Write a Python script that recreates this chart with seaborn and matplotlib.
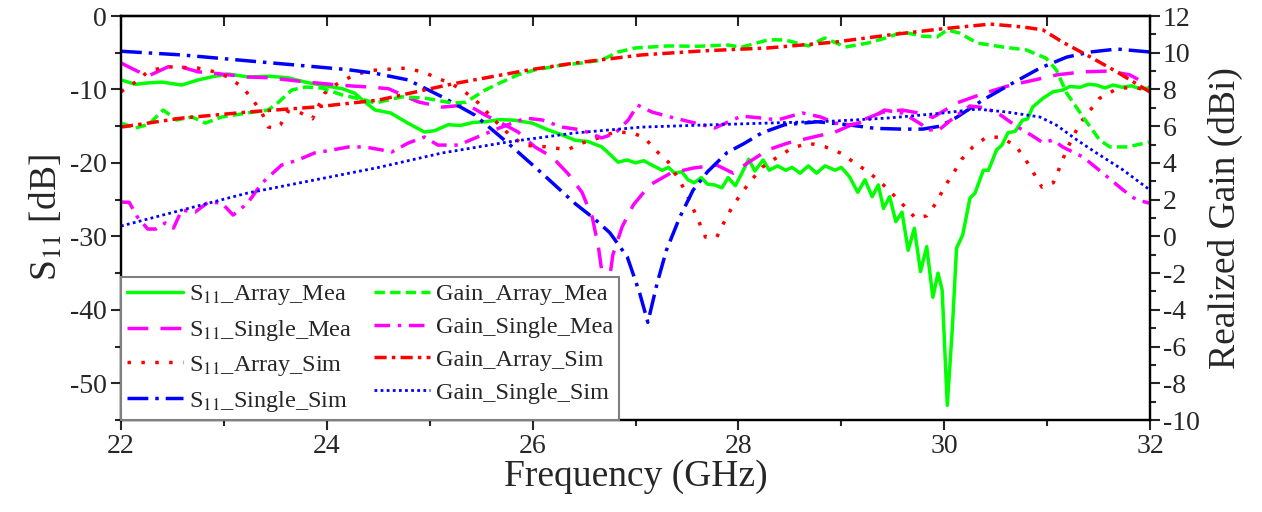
import numpy as np
import pandas as pd
import matplotlib
matplotlib.use("Agg")
import matplotlib.pyplot as plt
import seaborn as sns
from matplotlib.ticker import MultipleLocator

# ---------------- data ----------------
s11_array_mea_f = [22.0, 22.14, 22.27, 22.4, 22.59, 22.75, 22.91, 23.04, 23.24, 23.43, 23.62, 23.79, 23.95,
                   24.15, 24.27, 24.37, 24.47, 24.62, 24.79, 24.95, 25.05, 25.18, 25.3, 25.42, 25.54, 25.68,
                   25.83, 26.0, 26.15, 26.29, 26.41, 26.54, 26.67, 26.75, 26.83, 26.92, 27.0, 27.08, 27.16,
                   27.26, 27.32, 27.38, 27.45, 27.51, 27.57, 27.64, 27.70, 27.77, 27.84, 27.90, 27.97, 28.03,
                   28.10, 28.16, 28.24, 28.30, 28.38, 28.46, 28.52, 28.60, 28.68, 28.76, 28.84, 28.94, 29.00,
                   29.08, 29.16, 29.23, 29.30, 29.36, 29.41, 29.47, 29.53, 29.59, 29.65, 29.71, 29.77, 29.83,
                   29.89, 29.94, 29.98, 30.03, 30.08, 30.12, 30.18, 30.25, 30.30, 30.38, 30.43, 30.51, 30.56,
                   30.62, 30.69, 30.76, 30.81, 30.86, 30.96, 31.06, 31.15, 31.22, 31.32, 31.40, 31.48, 31.56,
                   31.64, 31.73, 31.82, 31.90, 32.0]
s11_array_mea = [-8.7, -9.3, -9.1, -9.0, -9.4, -8.7, -8.2, -7.9, -8.3, -8.2, -8.4, -9.0, -9.4,
                 -9.9, -10.5, -11.7, -12.8, -13.2, -14.6, -15.8, -15.6, -14.8, -14.9, -14.5, -14.4, -14.1,
                 -14.2, -14.6, -15.5, -16.2, -16.9, -17.1, -17.8, -18.8, -19.9, -19.6, -20.0, -19.7, -20.3,
                 -21.0, -20.6, -21.4, -21.2, -22.3, -22.7, -22.0, -22.9, -23.0, -23.4, -22.0, -23.1, -21.5,
                 -19.5, -21.1, -19.6, -21.0, -20.4, -21.0, -20.6, -21.4, -20.4, -21.4, -20.4, -21.0, -20.6,
                 -21.9, -24.0, -22.3, -24.6, -23.0, -26.2, -24.6, -28.0, -26.7, -31.9, -28.9, -34.8, -31.4,
                 -38.3, -35.0, -37.3, -53.0, -42.3, -31.6, -29.8, -24.8, -24.1, -21.0, -21.0, -18.2, -17.6,
                 -15.9, -15.7, -14.2, -14.0, -12.4, -11.2, -10.3, -10.1, -9.6, -9.7, -9.3, -9.4, -9.8,
                 -9.4, -9.7, -9.5, -9.9, -9.8]

s11_single_mea_f = [22.0, 22.1, 22.26, 22.46, 22.6, 22.75, 22.91, 23.23, 23.43, 23.62, 23.88, 24.21, 24.44,
                    24.6, 24.89, 25.12, 25.37, 25.54, 25.7, 25.86, 26.02, 26.19, 26.34, 26.48, 26.58, 26.64,
                    26.69, 26.73, 26.78, 26.87, 26.98, 27.14, 27.34, 27.56, 27.79, 27.95, 28.09, 28.29, 28.48,
                    28.72, 28.94, 29.2, 29.4, 29.59, 29.75, 29.89, 30.13, 30.39, 30.65, 30.88, 31.1, 31.35,
                    31.6, 31.8, 32.0]
s11_single_mea = [-6.4, -7.1, -8.2, -6.9, -7.0, -7.6, -7.8, -8.3, -8.4, -8.7, -9.1, -9.5, -9.7,
                  -9.9, -11.7, -12.4, -12.1, -13.5, -14.6, -15.8, -17.8, -19.2, -21.4, -24.0, -27.4, -31.5,
                  -36.5, -37.5, -32.5, -28.7, -25.7, -23.0, -21.4, -20.7, -20.3, -21.4, -20.0, -18.2, -17.3,
                  -16.5, -15.8, -14.2, -13.1, -12.8, -13.2, -13.8, -11.8, -10.5, -9.4, -8.7, -8.0, -7.6,
                  -7.5, -8.0, -9.5]

s11_array_sim_f = [22.0, 22.14, 22.26, 22.43, 22.6, 22.75, 22.91, 23.04, 23.18, 23.27, 23.37, 23.43, 23.5,
                   23.55, 23.62, 23.72, 23.86, 23.98, 24.08, 24.27, 24.44, 24.76, 24.93, 25.05, 25.22, 25.34,
                   25.47, 25.63, 25.8, 25.93, 26.12, 26.34, 26.48, 26.64, 26.8, 26.97, 27.09, 27.19, 27.32,
                   27.48, 27.61, 27.68, 27.79, 27.87, 27.94, 28.03, 28.13, 28.23, 28.38, 28.52, 28.68, 28.84,
                   29.0, 29.13, 29.26, 29.38, 29.49, 29.6, 29.72, 29.83, 29.93, 30.0, 30.09, 30.17, 30.28,
                   30.41, 30.54, 30.69, 30.78, 30.87, 30.95, 31.06, 31.12, 31.19, 31.25, 31.32, 31.42, 31.51,
                   31.68, 31.83, 32.0]
s11_array_sim = [-10.3, -9.0, -7.6, -6.9, -7.0, -7.1, -7.6, -8.3, -9.7, -11.2, -13.2, -15.1, -15.3,
                 -14.8, -13.0, -13.0, -14.0, -10.5, -9.4, -8.0, -7.4, -7.1, -7.6, -8.3, -9.3, -10.3,
                 -11.8, -14.2, -16.5, -17.6, -17.8, -18.2, -17.3, -16.6, -15.8, -15.9, -16.6, -18.2, -19.9,
                 -23.7, -27.8, -30.1, -30.1, -27.8, -26.0, -24.1, -22.3, -20.6, -19.2, -18.0, -17.3, -17.8,
                 -18.7, -20.0, -21.2, -22.6, -24.1, -25.7, -27.5, -27.2, -25.3, -23.3, -21.4, -19.5, -17.8,
                 -16.5, -16.5, -17.6, -19.3, -21.4, -23.3, -22.7, -20.7, -18.2, -16.5, -14.6, -12.8, -11.2,
                 -9.9, -9.7, -10.1]

s11_single_sim_f = [22.0, 22.59, 23.23, 23.88, 24.2, 24.47, 24.79, 25.12, 25.44, 25.76, 26.09, 26.41, 26.6,
                    26.75, 26.92, 27.04, 27.12, 27.21, 27.3, 27.43, 27.56, 27.7, 27.89, 28.05, 28.23, 28.45,
                    28.77, 29.06, 29.33, 29.59, 29.79, 29.96, 30.12, 30.38, 30.67, 30.93, 31.19, 31.42, 31.68,
                    32.0]
s11_single_sim = [-4.8, -5.3, -6.1, -6.9, -7.3, -7.8, -8.7, -11.0, -13.5, -17.3, -21.4, -25.5, -27.6,
                  -29.5, -32.8, -37.7, -41.7, -36.4, -31.9, -27.4, -23.7, -21.2, -18.6, -17.4, -15.9, -14.8,
                  -14.4, -14.8, -15.3, -15.4, -15.4, -15.0, -13.8, -11.4, -9.1, -7.1, -5.6, -4.9, -4.5,
                  -4.9]

gain_array_mea_f = [22.0, 22.14, 22.27, 22.41, 22.54, 22.69, 22.82, 22.98, 23.23, 23.43, 23.53, 23.66, 23.79,
                    23.95, 24.15, 24.37, 24.47, 24.73, 24.95, 25.22, 25.35, 25.54, 25.7, 25.86, 26.02, 26.29,
                    26.48, 26.67, 26.83, 27.0, 27.32, 27.6, 27.9, 28.03, 28.29, 28.45, 28.68, 28.84, 29.04,
                    29.26, 29.4, 29.6, 29.79, 29.93, 30.03, 30.15, 30.32, 30.57, 30.8, 30.99, 31.09, 31.19,
                    31.35, 31.51, 31.61, 31.78, 32.0]
gain_array_mea = [6.17, 5.9, 6.1, 6.88, 6.34, 6.5, 6.17, 6.5, 6.72, 6.88, 7.3, 7.97, 8.13,
                  8.08, 7.7, 7.42, 7.26, 7.6, 7.53, 7.26, 7.3, 7.97, 8.4, 8.8, 9.06, 9.33,
                  9.44, 9.6, 10.04, 10.26, 10.37, 10.35, 10.42, 10.3, 10.7, 10.7, 10.37, 10.8, 10.31,
                  10.53, 10.75, 11.13, 10.9, 10.86, 11.24, 11.07, 10.53, 10.31, 10.15, 9.7, 9.06, 7.8,
                  6.5, 5.25, 4.87, 4.87, 5.14]

gain_single_mea_f = [22.0, 22.08, 22.16, 22.26, 22.34, 22.43, 22.51, 22.59, 22.72, 22.85, 22.98, 23.09, 23.23,
                     23.37, 23.56, 23.72, 23.88, 24.05, 24.21, 24.37, 24.54, 24.63, 24.79, 24.95, 25.08, 25.28,
                     25.51, 25.7, 25.93, 26.09, 26.29, 26.48, 26.67, 26.8, 26.93, 27.02, 27.16, 27.38, 27.58,
                     27.77, 28.03, 28.23, 28.38, 28.62, 28.8, 28.94, 29.1, 29.26, 29.42, 29.6, 29.75, 29.86,
                     29.95, 30.1, 30.25, 30.4, 30.55, 30.7, 30.85, 30.96, 31.06, 31.15, 31.35, 31.54, 31.74,
                     31.87, 32.0]
gain_single_mea = [1.87, 1.85, 1.05, 0.4, 0.4, 0.73, 0.45, 1.43, 1.32, 1.87, 1.81, 1.16, 1.81,
                   2.9, 3.88, 4.16, 4.54, 4.7, 4.87, 4.87, 4.7, 4.59, 5.08, 5.41, 4.97, 4.97,
                   5.52, 5.95, 6.44, 6.34, 5.95, 5.79, 5.36, 5.6, 6.34, 7.15, 6.77, 6.44, 6.17,
                   5.9, 6.55, 6.44, 6.34, 6.72, 6.5, 6.17, 6.06, 6.34, 6.88, 6.7, 6.2, 5.8,
                   5.8, 6.5, 7.1, 7.0, 6.6, 6.0, 5.5, 5.1, 5.25, 4.87, 4.32, 3.45, 2.52,
                   1.98, 1.81]

gain_array_sim_f = [22.0, 22.59, 23.23, 23.88, 24.5, 25.22, 25.96, 26.41, 27.06, 27.65, 28.29, 28.94, 29.47,
                    29.96, 30.45, 30.77, 30.96, 31.15, 31.42, 31.68, 32.0]
gain_array_sim = [5.95, 6.44, 6.77, 7.04, 7.42, 8.3, 9.06, 9.44, 9.88, 10.1, 10.26, 10.58, 10.97,
                  11.29, 11.56, 11.4, 11.24, 10.58, 9.77, 8.95, 7.86]

gain_single_sim_f = [22.0, 22.59, 23.23, 23.88, 24.5, 25.12, 25.76, 26.41, 27.06, 27.65, 28.29, 28.94, 29.47,
                     29.96, 30.32, 30.61, 30.93, 31.09, 31.29, 31.48, 31.74, 32.0]
gain_single_sim = [0.56, 1.43, 2.36, 3.07, 3.75, 4.54, 5.14, 5.63, 5.95, 6.06, 6.17, 6.28, 6.45,
                   6.7, 6.93, 6.77, 6.5, 6.06, 5.25, 4.54, 3.61, 2.52]

x_ticks = [22, 24, 26, 28, 30, 32]
s11_ticks = [0, -10, -20, -30, -40, -50]
gain_ticks = [12, 10, 8, 6, 4, 2, 0, -2, -4, -6, -8, -10]

# ---------------- style ----------------
sns.set_style("ticks")
plt.rcParams["font.family"] = ["Liberation Serif", "DejaVu Serif"]
plt.rcParams["mathtext.fontset"] = "stix"
plt.rcParams["axes.unicode_minus"] = False

fig = plt.figure(figsize=(12.62, 5.12), dpi=100)
ax = fig.add_axes([121 / 1262, 1 - 420 / 512, (1150 - 121) / 1262, (420 - 16) / 512])
ax2 = ax.twinx()

GREEN = "#00ff00"
MAG = "#ff00ff"
RED = "#ff0000"
BLUE = "#0000ff"

lw = 2.5
specs_left = [
    (s11_array_mea_f, s11_array_mea, "S$_{11}$_Array_Mea", GREEN, "-"),
    (s11_single_mea_f, s11_single_mea, "S$_{11}$_Single_Mea", MAG, (0, (6, 3.5))),
    (s11_array_sim_f, s11_array_sim, "S$_{11}$_Array_Sim", RED, (0, (1, 3))),
    (s11_single_sim_f, s11_single_sim, "S$_{11}$_Single_Sim", BLUE, (0, (6, 2, 1, 2))),
]
specs_right = [
    (gain_array_mea_f, gain_array_mea, "Gain_Array_Mea", GREEN, (0, (3, 1.5)), lw),
    (gain_single_mea_f, gain_single_mea, "Gain_Single_Mea", MAG, (0, (4.5, 2.2, 1, 2.2)), lw),
    (gain_array_sim_f, gain_array_sim, "Gain_Array_Sim", RED, (0, (3.5, 1.5, 1, 1.5)), lw),
    (gain_single_sim_f, gain_single_sim, "Gain_Single_Sim", BLUE, (0, (1, 1.2)), 2.0),
]

handles = []
for f, v, lab, col, ls in specs_left:
    df = pd.DataFrame({"f": f, "v": v})
    sns.lineplot(data=df, x="f", y="v", ax=ax, color=col, linestyle=ls, linewidth=lw,
                 label=lab, legend=False, estimator=None, sort=False)
    handles.append(ax.lines[-1])
for f, v, lab, col, ls, w in specs_right:
    df = pd.DataFrame({"f": f, "v": v})
    sns.lineplot(data=df, x="f", y="v", ax=ax2, color=col, linestyle=ls, linewidth=w,
                 label=lab, legend=False, estimator=None, sort=False)
    handles.append(ax2.lines[-1])

ax.set_xlim(22, 32)
ax.set_ylim(-55, 0)
ax2.set_ylim(-10, 12)

ax.set_xticks(x_ticks)
ax.xaxis.set_minor_locator(MultipleLocator(1))
ax.set_yticks(s11_ticks)
ax.yaxis.set_minor_locator(MultipleLocator(5))
ax2.set_yticks(gain_ticks)
ax2.yaxis.set_minor_locator(MultipleLocator(1))

tick_fs = 20
ax.tick_params(axis="both", which="major", direction="out", length=7, width=1.5, labelsize=tick_fs, pad=3)
ax.tick_params(axis="both", which="minor", direction="out", length=4, width=1.5)
ax2.tick_params(axis="y", which="major", direction="out", length=7, width=1.5, labelsize=tick_fs, pad=2)
ax2.tick_params(axis="y", which="minor", direction="out", length=4, width=1.5)

top = ax.secondary_xaxis("top")
top.set_xticks(np.arange(22, 33, 1))
top.tick_params(direction="in", length=7, width=1.5, labeltop=False)
top.set_xticklabels([])

for a in (ax, ax2):
    for sp in a.spines.values():
        sp.set_linewidth(1.6)
        sp.set_color("black")
top.spines["top"].set_linewidth(1.6)

ax.set_xlabel("Frequency (GHz)", fontsize=27, labelpad=0)
ax.set_ylabel("S$_{11}$ [dB]", fontsize=27, labelpad=4)
ax2.set_ylabel("Realized Gain (dBi)", fontsize=27, labelpad=6)

leg = ax2.legend(handles=handles, labels=[h.get_label() for h in handles], ncol=2,
                 loc="lower left", bbox_to_anchor=(0, 0), borderaxespad=0,
                 frameon=True, fancybox=False, framealpha=1, edgecolor="#808080",
                 fontsize=17.5, handlelength=2.3, handletextpad=0.25, labelspacing=0.45,
                 columnspacing=0.9, borderpad=0.25)
leg.get_frame().set_linewidth(1.5)

fig.savefig("out.png", dpi=100)
